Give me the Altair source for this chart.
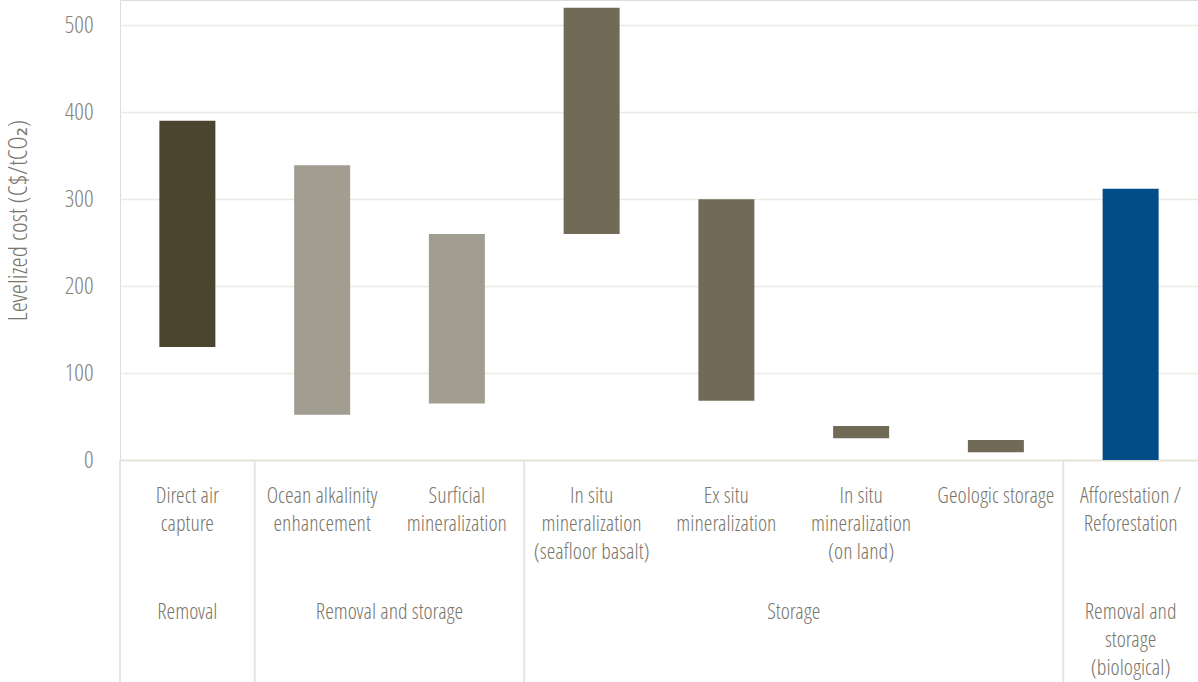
import altair as alt
import pandas as pd
from itertools import groupby

# ---- data ----
categories = [
    "Direct air|capture",
    "Ocean alkalinity|enhancement",
    "Surficial|mineralization",
    "In situ|mineralization|(seafloor basalt)",
    "Ex situ|mineralization",
    "In situ|mineralization|(on land)",
    "Geologic storage",
    "Afforestation /|Reforestation",
]
cost_low = [130, 52, 65, 260, 68, 25, 9, 0]
cost_high = [390, 339, 260, 520, 300, 39, 23, 312]
groups = [
    "Removal",
    "Removal and storage",
    "Removal and storage",
    "Storage",
    "Storage",
    "Storage",
    "Storage",
    "Removal and storage (biological)",
]
colour_kind = ["Removal", "Removal and storage", "Removal and storage",
               "Storage", "Storage", "Storage", "Storage", "Biological"]
kind_domain = ["Removal", "Removal and storage", "Storage", "Biological"]
kind_colours = ["#4b4530", "#a19e91", "#706a57", "#024c87"]
group_display = {
    "Removal": "Removal",
    "Removal and storage": "Removal and storage",
    "Storage": "Storage",
    "Removal and storage (biological)": "Removal and\nstorage\n(biological)",
}
y_ticks = [0, 100, 200, 300, 400, 500]

FONT = "Open Sans Condensed Light, Liberation Sans Narrow, DejaVu Sans Condensed, sans-serif"
TEXT = "#7a766b"
LINE = "#e6e4db"

bars_df = pd.DataFrame({
    "category": categories,
    "low": cost_low,
    "high": cost_high,
    "kind": colour_kind,
})

# group spans (derived from the groups list)
g_rows = []
idx = 0
for name, items in groupby(groups):
    n = len(list(items))
    g_rows.append({"group": group_display[name], "start": idx, "center": idx + n / 2})
    idx += n
groups_df = pd.DataFrame(g_rows)
n_cat = len(categories)

bars = alt.Chart(bars_df).mark_bar(width=56).encode(
    x=alt.X(
        "category:N",
        sort=categories,
        scale=alt.Scale(paddingInner=0, paddingOuter=0),
        axis=alt.Axis(
            title=None,
            labelAngle=0,
            labelExpr="split(datum.label, '|')",
            labelFont=FONT,
            labelFontSize=22,
            labelColor=TEXT,
            labelLineHeight=28,
            labelPadding=25,
            labelBaseline="top",
            labelLimit=0,
            ticks=False,
            tickSize=0,
            domain=True,
            domainColor=LINE,
            domainWidth=2,
            grid=False,
        ),
    ),
    y=alt.Y(
        "low:Q",
        scale=alt.Scale(domain=[0, 529], nice=False),
        axis=alt.Axis(
            title="Levelized cost (C$/tCO₂)",
            values=y_ticks,
            grid=True,
            gridColor="#ecebe3",
            gridWidth=1.5,
            domain=False,
            ticks=False,
            tickSize=0,
            labelPadding=27,
            labelFont=FONT,
            labelFontSize=24,
            labelColor="#87847a",
            titleFont=FONT,
            titleFontSize=26,
            titleFontWeight="normal",
            titleColor=TEXT,
            titleX=-89,
            titleY=220,
        ),
    ),
    y2="high:Q",
    color=alt.Color("kind:N", scale=alt.Scale(domain=kind_domain, range=kind_colours), legend=None),
)

xq = alt.X("start:Q", scale=alt.Scale(domain=[0, n_cat], nice=False, zero=False), axis=None)

separators = alt.Chart(groups_df).mark_rule(color=LINE, strokeWidth=2).encode(
    x=xq,
    y=alt.value(460),
    y2=alt.value(682),
)

group_labels = alt.Chart(groups_df).mark_text(
    font=FONT, fontSize=22, color=TEXT, baseline="top", align="center",
    lineBreak="\n", lineHeight=28,
).encode(
    x=alt.X("center:Q", scale=alt.Scale(domain=[0, n_cat], nice=False, zero=False), axis=None),
    y=alt.value(602),
    text="group:N",
)

chart = alt.layer(bars, separators, group_labels).resolve_scale(x="independent").properties(
    width=1078,
    height=460,
    autosize=alt.AutoSizeParams(type="none"),
    padding={"left": 120, "top": 0, "right": 0, "bottom": 222},
).configure_view(stroke=None).configure(background="white")

chart.save("out.html", embed_options={"renderer": "svg", "actions": False})
